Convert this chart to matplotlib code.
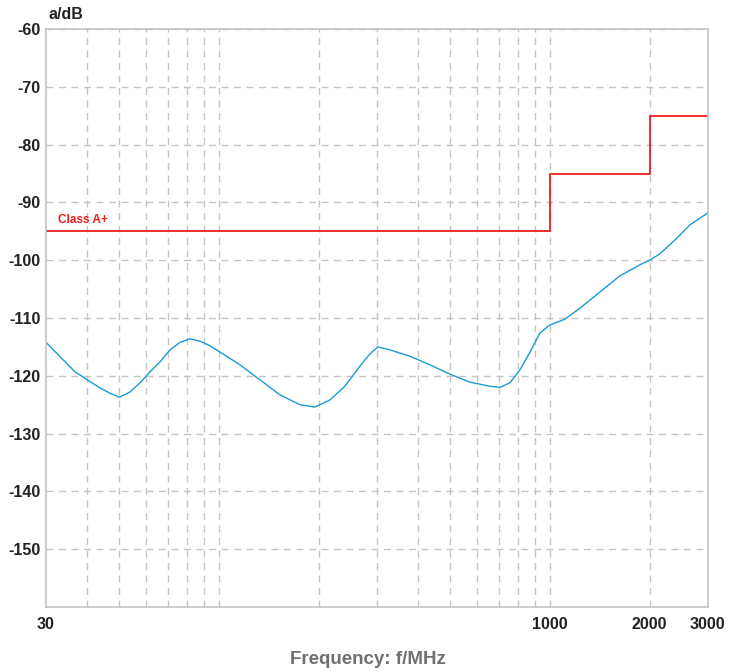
import matplotlib
matplotlib.use("Agg")
import matplotlib.pyplot as plt
from matplotlib.ticker import FixedLocator, NullFormatter

plt.rcParams['axes.unicode_minus'] = False

# measured curve (MHz, dB)
freq = [30, 33.1, 36.7, 40, 43.7, 46.8, 50, 53.8, 57.7, 61.9, 66.3, 71.1, 76.2,
        81.7, 87.6, 93.9, 100.7, 115.7, 133, 152.8, 175.6, 194.9, 216, 240,
        266.6, 285.8, 302, 328, 377, 434, 498, 573, 658, 706, 757, 811, 870,
        932, 1000, 1109, 1232, 1415, 1627, 1869, 2000, 2148, 2385, 2647, 3000]
level = [-114.2, -116.7, -119.3, -120.7, -122.1, -123.0, -123.7, -122.8, -121.2,
         -119.3, -117.6, -115.5, -114.2, -113.6, -114.0, -114.8, -115.9, -118.1,
         -120.7, -123.3, -125.0, -125.4, -124.2, -121.8, -118.3, -116.2, -115.0,
         -115.5, -116.6, -118.1, -119.7, -121.1, -121.8, -122.0, -121.2, -119.0,
         -115.9, -112.6, -111.2, -110.2, -108.3, -105.5, -102.7, -100.8, -100.0,
         -98.9, -96.5, -93.9, -91.8]

# Class A+ limit
limit_f = [30, 1000, 1000, 2000, 2000, 3000]
limit_db = [-95, -95, -85, -85, -75, -75]

grid_x = [40, 50, 60, 70, 80, 90, 100, 200, 300, 400, 500, 600, 700, 800, 900, 1000, 2000]
xticks = [30, 1000, 2000, 3000]
yticks = [-150, -140, -130, -120, -110, -100, -90, -80, -70, -60]

fnt = ['Liberation Sans', 'DejaVu Sans']

fig = plt.figure(figsize=(7.42, 6.72), dpi=100)
ax = fig.add_axes([0.062, 0.0967, 0.892, 0.8601])

for gx in grid_x:
    ax.axvline(gx, color='#c4c4c4', lw=1, ls=(0, (5, 4)), zorder=0)
for gy in yticks:
    ax.axhline(gy, color='#c4c4c4', lw=1, ls=(0, (5, 4)), zorder=0)

ax.plot(limit_f, limit_db, color='#ee1c1c', lw=1.3)
ax.plot(freq, level, color='#1b9ad6', lw=1.0)

ax.set_xscale('log')
ax.set_xlim(30, 3000)
ax.set_ylim(-160, -60)
ax.xaxis.set_major_locator(FixedLocator(xticks))
ax.xaxis.set_minor_locator(FixedLocator([]))
ax.xaxis.set_minor_formatter(NullFormatter())
ax.set_xticks(xticks)
ax.set_xticklabels([str(t) for t in xticks])
ax.set_yticks(yticks)
ax.set_yticklabels([str(t) for t in yticks])
ax.tick_params(length=0, labelsize=11.5, labelcolor='#222222')
ax.tick_params(axis='y', pad=4)
ax.tick_params(axis='x', pad=7)
for lab in ax.get_xticklabels() + ax.get_yticklabels():
    lab.set_family(fnt)
    lab.set_fontweight('bold')

for s in ax.spines.values():
    s.set_color('#c0c4c8')
    s.set_linewidth(1.2)

ax.text(32.5, -94.1, 'Class A+', color='#ee1c1c', fontsize=8.5, fontweight='bold',
        family=fnt, va='bottom')
fig.text(0.065, 0.979, 'a/dB', fontsize=11.5, fontweight='bold', family=fnt,
         color='#222222', ha='left', va='center')
fig.text(0.496, 0.018, 'Frequency: f/MHz', fontsize=13.5, fontweight='bold',
         color='#707070', ha='center', va='center', family=fnt)

fig.savefig('out.png', dpi=100)
